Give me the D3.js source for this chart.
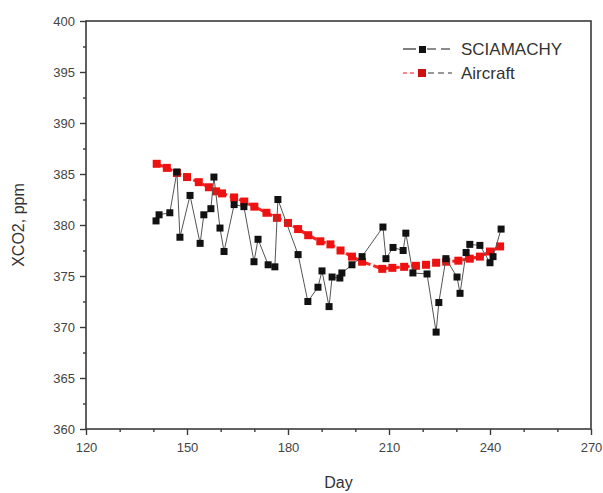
<!DOCTYPE html>
<html><head><meta charset="utf-8">
<script src="https://cdn.jsdelivr.net/npm/d3@7"></script>
<style>body{margin:0;background:#fff;} text{font-family:Arial,"Liberation Sans",sans-serif;}</style>
</head><body><svg id="c" width="603" height="493"></svg>
<script>
const sciaDays = [140.8,141.7,144.9,147.0,147.9,150.9,153.9,155.0,157.1,158.0,159.8,161.0,164.0,166.9,169.9,171.1,174.1,176.1,177.0,183.0,185.9,188.9,190.1,192.2,193.1,195.4,196.0,199.0,202.0,208.2,209.1,211.2,214.2,215.0,217.1,221.3,224.0,224.8,226.9,230.2,231.1,232.9,234.0,237.0,240.0,240.9,243.3];
const sciaValues = [380.4,381.0,381.2,385.2,378.8,382.9,378.2,381.0,381.6,384.7,379.7,377.4,382.0,381.8,376.4,378.6,376.1,375.9,382.5,377.1,372.5,373.9,375.5,372.0,374.9,374.8,375.3,376.1,376.9,379.8,376.7,377.8,377.5,379.2,375.3,375.2,369.5,372.4,376.7,374.9,373.3,377.3,378.1,378.0,376.3,376.9,379.6];
const airDays = [141.0,144.0,147.0,150.0,153.5,156.5,158.6,160.4,164.0,167.0,170.0,173.6,176.7,180.0,183.0,186.0,189.6,192.6,195.6,199.0,202.0,208.0,211.0,214.5,218.0,221.0,224.0,227.0,230.6,234.0,237.0,240.0,243.0];
const airValues = [386.0,385.6,385.1,384.7,384.2,383.7,383.3,383.1,382.7,382.3,381.8,381.2,380.7,380.2,379.6,379.0,378.4,378.1,377.5,376.9,376.4,375.7,375.8,375.9,376.0,376.1,376.3,376.4,376.5,376.7,376.9,377.4,377.9];
const xTicks = [120,150,180,210,240,270];
const yTicks = [360,365,370,375,380,385,390,395,400];
const seriesNames = ["SCIAMACHY","Aircraft"];

const svg = d3.select("#c");
const x = d3.scaleLinear().domain([120,270]).range([86,591]);
const y = d3.scaleLinear().domain([360,400]).range([429,21]);
const axisCol = "#3a3a3a";

svg.append("rect").attr("x",x(120)).attr("y",y(400)).attr("width",x(270)-x(120)).attr("height",y(360)-y(400))
  .attr("fill","none").attr("stroke",axisCol).attr("stroke-width",1.6);

const xa = svg.append("g").attr("transform",`translate(0,${y(360)})`)
  .call(d3.axisBottom(x).tickValues(xTicks).tickSize(6).tickPadding(8).tickFormat(d3.format("d")));
const xm = svg.append("g").attr("transform",`translate(0,${y(360)})`)
  .call(d3.axisBottom(x).tickValues(d3.range(130,270,10).filter(d=>d%30)).tickSize(3).tickFormat(""));
const ya = svg.append("g").attr("transform",`translate(${x(120)},0)`)
  .call(d3.axisLeft(y).tickValues(yTicks).tickSize(6).tickPadding(5).tickFormat(d3.format("d")));
const ym = svg.append("g").attr("transform",`translate(${x(120)},0)`)
  .call(d3.axisLeft(y).tickValues(d3.range(362.5,400,5)).tickSize(3).tickFormat(""));
[xa,xm,ya,ym].forEach(g=>{
  g.select(".domain").remove();
  g.selectAll("line").attr("stroke",axisCol).attr("stroke-width",1.4);
  g.selectAll("text").attr("fill","#444").style("font-size","13px").style("font-family","Arial, 'Liberation Sans', sans-serif");
});

svg.append("text").attr("x",(x(120)+x(270))/2).attr("y",488).attr("text-anchor","middle")
  .attr("fill","#333").style("font-size","16px").text("Day");
svg.append("text").attr("transform",`translate(24,${(y(360)+y(400))/2}) rotate(-90)`).attr("text-anchor","middle")
  .attr("fill","#333").style("font-size","16px").text("XCO2, ppm");

const airPts = airDays.map((d,i)=>[d,airValues[i]]);
svg.append("path").datum(airPts).attr("fill","none").attr("stroke","#ff2020").attr("stroke-width",3)
  .attr("stroke-dasharray","7,3").attr("d",d3.line().x(d=>x(d[0])).y(d=>y(d[1])));
svg.selectAll("rect.air").data(airPts).enter().append("rect").attr("class","air")
  .attr("x",d=>x(d[0])-4).attr("y",d=>y(d[1])-4).attr("width",8).attr("height",8).attr("fill","#ee1111");

const sPts = sciaDays.map((d,i)=>[d,sciaValues[i]]);
svg.append("path").datum(sPts).attr("fill","none").attr("stroke","#555").attr("stroke-width",1)
  .attr("d",d3.line().x(d=>x(d[0])).y(d=>y(d[1])));
svg.selectAll("rect.sc").data(sPts).enter().append("rect").attr("class","sc")
  .attr("x",d=>x(d[0])-3.5).attr("y",d=>y(d[1])-3.5).attr("width",7).attr("height",7).attr("fill","#111");

const lg = svg.append("g");
lg.append("line").attr("x1",403).attr("x2",416).attr("y1",49).attr("y2",49).attr("stroke","#555").attr("stroke-width",1.5);
lg.append("line").attr("x1",427).attr("x2",452).attr("y1",49).attr("y2",49).attr("stroke","#666").attr("stroke-width",1.5).attr("stroke-dasharray","9,5");
lg.append("rect").attr("x",419).attr("y",46).attr("width",7).attr("height",7).attr("fill","#111");
lg.append("text").attr("x",461).attr("y",55).attr("fill","#333").style("font-size","17px").text(seriesNames[0]);
lg.append("line").attr("x1",403).attr("x2",417).attr("y1",73).attr("y2",73).attr("stroke","#ff6060").attr("stroke-width",1.5).attr("stroke-dasharray","4,3");
lg.append("line").attr("x1",428).attr("x2",452).attr("y1",73).attr("y2",73).attr("stroke","#777").attr("stroke-width",1.5).attr("stroke-dasharray","6,4");
lg.append("rect").attr("x",418).attr("y",69).attr("width",8).attr("height",8).attr("fill","#cc1111");
lg.append("text").attr("x",461).attr("y",79).attr("fill","#333").style("font-size","17px").text(seriesNames[1]);
</script></body></html>
